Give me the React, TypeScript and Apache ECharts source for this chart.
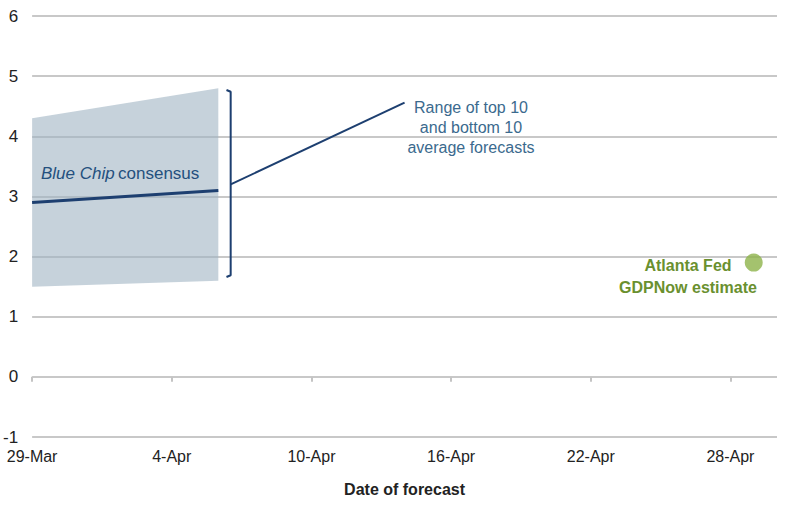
import React, { useEffect, useRef } from "react";
import * as echarts from "echarts";

// Days counted from 29-Mar
const tickDays = [0, 6, 12, 18, 24, 30];
const tickLabels = ["29-Mar", "4-Apr", "10-Apr", "16-Apr", "22-Apr", "28-Apr"];
const yTicks = [-1, 0, 1, 2, 3, 4, 5, 6];

// Blue Chip consensus
const consensusDays = [0, 8];
const consensusValues = [2.9, 3.1];

// Range of top 10 and bottom 10 average forecasts
const bandDays = [0, 8];
const bandLow = [1.5, 1.6];
const bandHigh = [4.3, 4.8];

// Atlanta Fed GDPNow estimate
const gdpNowDay = [31];
const gdpNowValue = [1.9];

// Annotation bracket and connector (data coords)
const bracketPts = [
  [8.35, 4.77],
  [8.53, 4.74],
  [8.53, 1.69],
  [8.35, 1.66],
];
const connectorPts = [
  [8.53, 3.2],
  [16.0, 4.56],
];

const FONT = "'Liberation Sans', Arial, sans-serif";
const NAVY = "#1d3f70";

export default function App() {
  const ref = useRef<HTMLDivElement>(null);
  useEffect(() => {
    if (!ref.current) return;
    const chart = echarts.init(ref.current, null, { renderer: "svg" });
    const consensus = consensusDays.map((d, i) => [d, consensusValues[i]]);
    const band = bandDays.map((d, i) => [d, bandLow[i], bandHigh[i]]);
    const gdp = gdpNowDay.map((d, i) => [d, gdpNowValue[i]]);
    chart.setOption({
      animation: false,
      backgroundColor: "#ffffff",
      textStyle: { fontFamily: FONT },
      grid: { left: 28, right: 22, top: 16, bottom: 71, containLabel: false },
      xAxis: {
        type: "value",
        min: 0,
        max: 32,
        interval: 6,
        axisLine: { show: false },
        splitLine: { show: false },
        axisTick: {
          show: true,
          customValues: tickDays,
          length: 5,
          lineStyle: { color: "#c4c4c4", width: 2 },
        },
        axisLabel: {
          customValues: tickDays,
          formatter: (v: number) => {
            const i = tickDays.indexOf(Math.round(v));
            return i >= 0 ? tickLabels[i] : "";
          },
          fontSize: 16,
          color: "#222",
          margin: 11,
          fontFamily: FONT,
        },
        name: "Date of forecast",
        nameLocation: "middle",
        nameGap: 44,
        nameTextStyle: { fontSize: 16, fontWeight: "bold", color: "#222", fontFamily: FONT },
      },
      yAxis: {
        type: "value",
        min: yTicks[0],
        max: yTicks[yTicks.length - 1],
        interval: 1,
        axisLine: { show: false },
        axisTick: { show: false },
        axisLabel: { fontSize: 17, color: "#222", margin: 14, fontFamily: FONT },
        splitLine: { lineStyle: { color: "#c8c8c8", width: 2 } },
      },
      series: [
        {
          type: "custom",
          name: "Range",
          data: band,
          renderItem: (params: any, api: any) => {
            if (params.dataIndex !== 0) return null;
            const top: number[][] = [];
            const bot: number[][] = [];
            for (let i = 0; i < band.length; i++) {
              top.push(api.coord([band[i][0], band[i][2]]));
              bot.push(api.coord([band[i][0], band[i][1]]));
            }
            return {
              type: "polygon",
              shape: { points: top.concat(bot.reverse()) },
              style: { fill: "rgb(160,180,195)", opacity: 0.6 },
            };
          },
          z: 1,
        },
        {
          type: "line",
          name: "Blue Chip consensus",
          data: consensus,
          symbol: "none",
          lineStyle: { color: NAVY, width: 3 },
          z: 3,
        },
        {
          type: "line",
          data: bracketPts,
          symbol: "none",
          lineStyle: { color: NAVY, width: 2 },
          z: 3,
        },
        {
          type: "line",
          data: connectorPts,
          symbol: "none",
          lineStyle: { color: NAVY, width: 2 },
          z: 3,
        },
        {
          type: "scatter",
          name: "GDPNow",
          data: gdp,
          symbolSize: 18,
          itemStyle: { color: "#8db34a" },
          z: 4,
        },
      ],
      graphic: [
        {
          type: "text",
          left: 41,
          top: 165,
          z: 100,
          style: {
            text: "{i|Blue Chip} {n|consensus}",
            rich: {
              i: { fontStyle: "italic", fontSize: 17, fill: "#24507e", fontFamily: FONT },
              n: { fontSize: 17, fill: "#24507e", fontFamily: FONT },
            },
          },
        },
        {
          type: "text",
          x: 471,
          y: 127,
          z: 100,
          style: {
            text: "Range of top 10\nand bottom 10\naverage forecasts",
            fontSize: 16,
            lineHeight: 20,
            fill: "#3b6a8e",
            align: "center",
            verticalAlign: "middle",
            fontFamily: FONT,
          },
        },
        {
          type: "text",
          x: 688,
          y: 276,
          z: 100,
          style: {
            text: "Atlanta Fed\nGDPNow estimate",
            fontSize: 16,
            fontWeight: "bold",
            lineHeight: 22,
            fill: "#6a902f",
            align: "center",
            verticalAlign: "middle",
            fontFamily: FONT,
          },
        },
      ],
    });
    return () => chart.dispose();
  }, []);
  return (
    <div
      ref={ref}
      style={{ position: "fixed", left: 0, top: 0, width: 799, height: 508 }}
    />
  );
}
